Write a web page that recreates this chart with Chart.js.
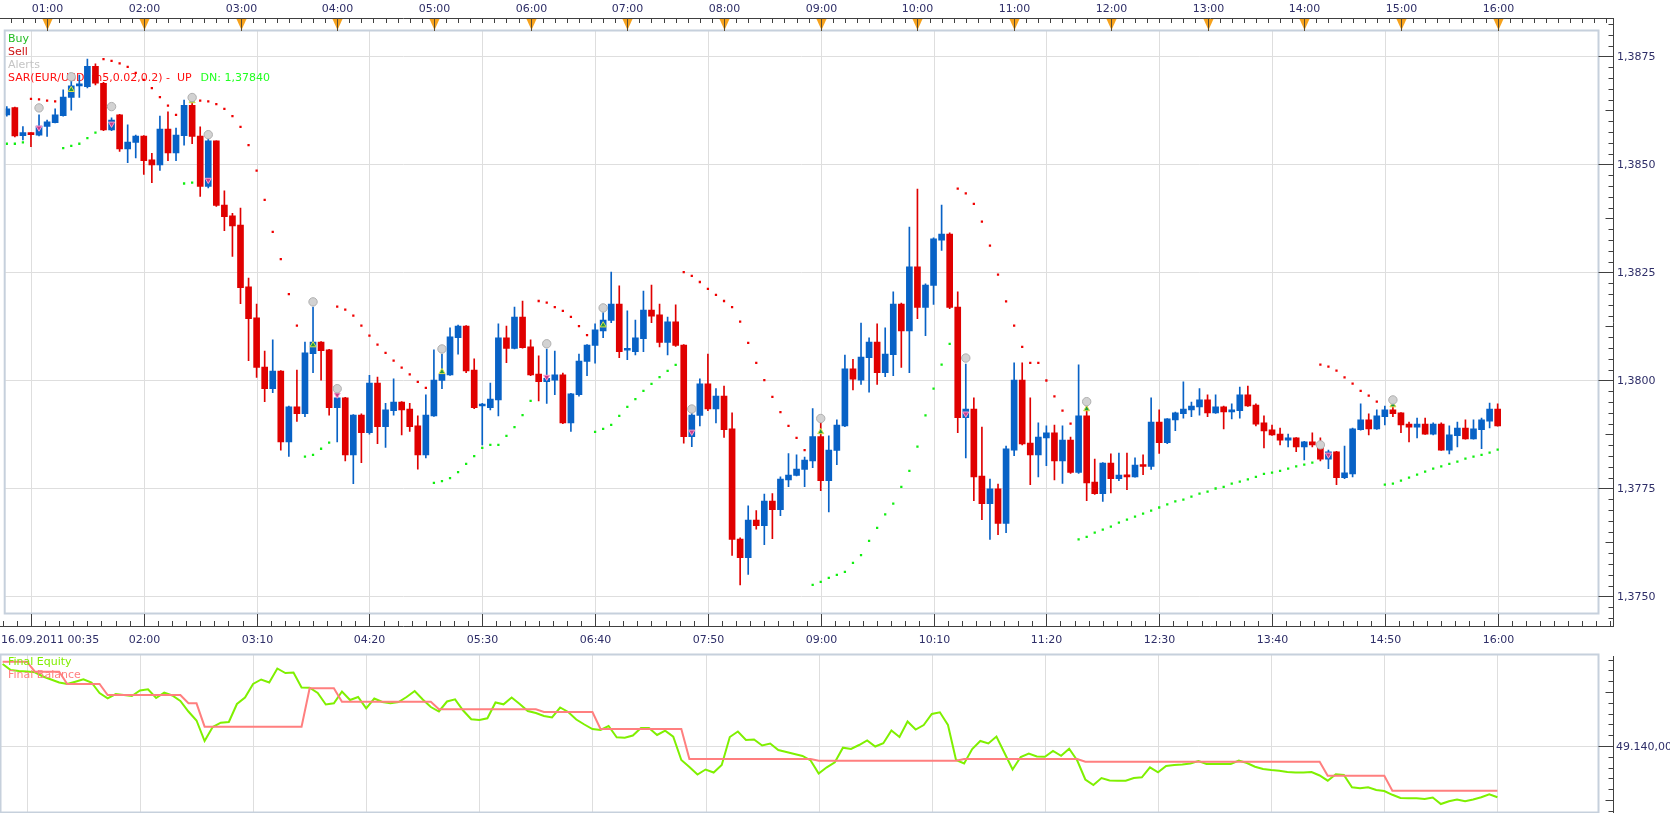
<!DOCTYPE html>
<html><head><meta charset="utf-8">
<script src="https://cdn.jsdelivr.net/npm/chart.js@4.4.1/dist/chart.umd.min.js"></script>
<style>
html,body{margin:0;padding:0;background:#fff;overflow:hidden}
#wrap{position:relative;width:1670px;height:813px}
#c1{position:absolute;left:0;top:0}
#c2{position:absolute;left:0;top:650px}
</style></head><body>
<div id="wrap"><canvas id="c1" width="1670" height="654"></canvas><canvas id="c2" width="1670" height="163"></canvas></div>
<script>
// ---------- DATA (EUR/USD m5, 16.09.2011 00:35 .. 16:00) ----------
const sessionStart = "00:35";
const barMinutes = 5;
const openP = [
1.38615,1.38632,1.38567,1.38574,1.38568,1.38588,1.38597,1.38613,1.38655,1.38682,
1.38680,1.38727,1.38688,1.38580,1.38615,1.38536,1.38551,1.38566,1.38511,1.38499,
1.38582,1.38527,1.38567,1.38637,1.38566,1.38449,1.38555,1.38406,1.38381,1.38360,
1.38217,1.38145,1.38031,1.37981,1.38022,1.37858,1.37939,1.37923,1.38062,1.38089,
1.38071,1.37937,1.37960,1.37828,1.37920,1.37879,1.37994,1.37893,1.37930,1.37950,
1.37934,1.37895,1.37828,1.37918,1.38000,1.38013,1.38099,1.38126,1.38024,1.37941,
1.37937,1.37955,1.38099,1.38074,1.38147,1.38078,1.38015,1.37997,1.38001,1.38013,
1.37902,1.37967,1.38044,1.38081,1.38115,1.38139,1.38177,1.38070,1.38067,1.38097,
1.38163,1.38152,1.38088,1.38136,1.38082,1.37870,1.37919,1.37992,1.37934,1.37964,
1.37888,1.37633,1.37590,1.37677,1.37664,1.37721,1.37701,1.37770,1.37780,1.37794,
1.37814,1.37870,1.37768,1.37838,1.37895,1.38027,1.38001,1.38053,1.38089,1.38018,
1.38060,1.38177,1.38115,1.38263,1.38169,1.38220,1.38325,1.38339,1.38170,1.37914,
1.37934,1.37779,1.37715,1.37749,1.37669,1.37839,1.38001,1.37855,1.37828,1.37867,
1.37879,1.37814,1.37862,1.37787,1.37918,1.37765,1.37738,1.37809,1.37773,1.37781,
1.37777,1.37804,1.37801,1.37904,1.37856,1.37909,1.37923,1.37932,1.37939,1.37955,
1.37925,1.37939,1.37927,1.37930,1.37967,1.37943,1.37902,1.37886,1.37876,1.37862,
1.37867,1.37846,1.37858,1.37853,1.37818,1.37835,1.37775,1.37784,1.37886,1.37909,
1.37888,1.37916,1.37932,1.37925,1.37899,1.37892,1.37899,1.37876,1.37899,1.37839,
1.37872,1.37890,1.37865,1.37886,1.37906,1.37934];
const highP = [
1.38634,1.38633,1.38588,1.38574,1.38615,1.38603,1.38629,1.38673,1.38696,1.38707,
1.38744,1.38733,1.38690,1.38608,1.38616,1.38592,1.38568,1.38567,1.38526,1.38612,
1.38622,1.38584,1.38649,1.38654,1.38587,1.38566,1.38555,1.38439,1.38387,1.38399,
1.38237,1.38177,1.38068,1.38094,1.38023,1.37941,1.38024,1.38089,1.38170,1.38090,
1.38072,1.37968,1.37961,1.37921,1.37923,1.38012,1.38008,1.37947,1.38004,1.37951,
1.37947,1.37918,1.37967,1.38071,1.38061,1.38122,1.38128,1.38127,1.38050,1.37947,
1.37994,1.38131,1.38126,1.38170,1.38184,1.38094,1.38057,1.38073,1.38068,1.38017,
1.37970,1.38061,1.38083,1.38131,1.38157,1.38251,1.38219,1.38161,1.38140,1.38207,
1.38221,1.38177,1.38147,1.38175,1.38083,1.37925,1.38004,1.38061,1.37981,1.37987,
1.37925,1.37636,1.37710,1.37699,1.37737,1.37738,1.37777,1.37831,1.37828,1.37823,
1.37935,1.37902,1.37872,1.37909,1.38059,1.38049,1.38133,1.38099,1.38131,1.38122,
1.38205,1.38179,1.38355,1.38443,1.38224,1.38330,1.38406,1.38342,1.38205,1.38038,
1.37960,1.37892,1.37772,1.37760,1.37848,1.38041,1.38041,1.37960,1.37902,1.37895,
1.37897,1.37895,1.37869,1.38036,1.37941,1.37818,1.37810,1.37830,1.37832,1.37832,
1.37821,1.37828,1.37960,1.37932,1.37912,1.37927,1.37997,1.37950,1.37981,1.37967,
1.37967,1.37941,1.37946,1.37985,1.37987,1.37946,1.37918,1.37897,1.37890,1.37876,
1.37868,1.37859,1.37879,1.37867,1.37839,1.37836,1.37848,1.37890,1.37946,1.37923,
1.37932,1.37941,1.37941,1.37926,1.37904,1.37913,1.37913,1.37902,1.37902,1.37895,
1.37904,1.37909,1.37909,1.37913,1.37948,1.37946];
const lowP = [
1.38612,1.38564,1.38557,1.38541,1.38566,1.38565,1.38596,1.38612,1.38626,1.38655,
1.38677,1.38684,1.38578,1.38578,1.38530,1.38504,1.38515,1.38477,1.38458,1.38486,
1.38509,1.38509,1.38545,1.38548,1.38426,1.38446,1.38403,1.38347,1.38287,1.38178,
1.38046,1.38007,1.37951,1.37972,1.37839,1.37824,1.37905,1.37916,1.38018,1.38001,
1.37920,1.37858,1.37814,1.37761,1.37810,1.37876,1.37854,1.37845,1.37920,1.37874,
1.37882,1.37795,1.37821,1.37917,1.37981,1.38012,1.38061,1.38018,1.37935,1.37851,
1.37932,1.37918,1.38041,1.38073,1.38075,1.38011,1.37953,1.37947,1.37967,1.37900,
1.37882,1.37964,1.38011,1.38040,1.38099,1.38134,1.38053,1.38048,1.38059,1.38067,
1.38134,1.38078,1.38059,1.38079,1.37855,1.37847,1.37895,1.37930,1.37902,1.37868,
1.37595,1.37527,1.37551,1.37656,1.37620,1.37634,1.37687,1.37754,1.37779,1.37754,
1.37798,1.37745,1.37696,1.37805,1.37893,1.37978,1.37991,1.37973,1.37991,1.38009,
1.38011,1.38030,1.38018,1.38143,1.38104,1.38176,1.38301,1.38166,1.37879,1.37821,
1.37722,1.37678,1.37632,1.37643,1.37648,1.37826,1.37851,1.37759,1.37777,1.37803,
1.37770,1.37762,1.37785,1.37785,1.37722,1.37736,1.37720,1.37740,1.37768,1.37747,
1.37776,1.37782,1.37794,1.37831,1.37854,1.37884,1.37913,1.37916,1.37920,1.37916,
1.37924,1.37888,1.37911,1.37913,1.37940,1.37895,1.37844,1.37873,1.37851,1.37846,
1.37835,1.37816,1.37846,1.37814,1.37796,1.37759,1.37773,1.37777,1.37885,1.37874,
1.37887,1.37897,1.37916,1.37879,1.37858,1.37867,1.37875,1.37874,1.37838,1.37830,
1.37846,1.37864,1.37864,1.37842,1.37890,1.37894];
const closeP = [
1.38629,1.38566,1.38574,1.38569,1.38589,1.38599,1.38615,1.38656,1.38682,1.38686,
1.38727,1.38688,1.38580,1.38603,1.38536,1.38552,1.38566,1.38509,1.38499,1.38582,
1.38527,1.38568,1.38637,1.38565,1.38449,1.38555,1.38405,1.38379,1.38358,1.38215,
1.38143,1.38030,1.37981,1.38022,1.37858,1.37939,1.37923,1.38064,1.38089,1.38069,
1.37937,1.37960,1.37828,1.37920,1.37879,1.37994,1.37893,1.37932,1.37950,1.37932,
1.37893,1.37828,1.37920,1.38001,1.38015,1.38101,1.38126,1.38022,1.37937,1.37942,
1.37957,1.38099,1.38074,1.38147,1.38076,1.38013,1.37997,1.38005,1.38013,1.37902,
1.37969,1.38045,1.38082,1.38117,1.38140,1.38177,1.38067,1.38071,1.38099,1.38163,
1.38149,1.38088,1.38136,1.38081,1.37870,1.37920,1.37992,1.37934,1.37964,1.37886,
1.37632,1.37590,1.37677,1.37664,1.37721,1.37701,1.37772,1.37781,1.37795,1.37816,
1.37870,1.37768,1.37839,1.37897,1.38027,1.38003,1.38054,1.38089,1.38018,1.38061,
1.38177,1.38115,1.38263,1.38169,1.38221,1.38328,1.38339,1.38169,1.37914,1.37934,
1.37777,1.37715,1.37749,1.37669,1.37842,1.38001,1.37853,1.37828,1.37869,1.37879,
1.37814,1.37862,1.37787,1.37918,1.37763,1.37738,1.37809,1.37773,1.37781,1.37777,
1.37804,1.37801,1.37904,1.37856,1.37911,1.37925,1.37934,1.37941,1.37955,1.37925,
1.37939,1.37927,1.37932,1.37967,1.37941,1.37899,1.37883,1.37874,1.37862,1.37867,
1.37846,1.37858,1.37851,1.37818,1.37835,1.37775,1.37786,1.37888,1.37909,1.37888,
1.37918,1.37932,1.37923,1.37897,1.37892,1.37899,1.37876,1.37899,1.37839,1.37874,
1.37890,1.37865,1.37888,1.37909,1.37934,1.37895];
const sarP = [
1.38548,1.38548,1.38551,1.38652,1.38651,1.38648,1.38646,1.38538,1.38543,1.38548,
1.38561,1.38574,1.38744,1.38740,1.38734,1.38726,1.38712,1.38696,1.38677,1.38656,
1.38636,1.38615,1.38456,1.38458,1.38648,1.38646,1.38640,1.38629,1.38612,1.38587,
1.38545,1.38486,1.38418,1.38344,1.38281,1.38200,1.38127,1.37824,1.37828,1.37842,
1.37856,1.38171,1.38164,1.38150,1.38127,1.38104,1.38083,1.38064,1.38046,1.38030,
1.38014,1.37997,1.37983,1.37763,1.37767,1.37774,1.37788,1.37807,1.37825,1.37844,
1.37851,1.37851,1.37872,1.37892,1.37920,1.37953,1.38184,1.38180,1.38170,1.38161,
1.38147,1.38126,1.38105,1.37881,1.37888,1.37897,1.37918,1.37939,1.37957,1.37976,
1.37992,1.38008,1.38022,1.38036,1.38251,1.38242,1.38228,1.38212,1.38198,1.38184,
1.38170,1.38136,1.38087,1.38041,1.38001,1.37962,1.37927,1.37895,1.37867,1.37839,
1.37527,1.37534,1.37543,1.37550,1.37557,1.37578,1.37596,1.37629,1.37659,1.37690,
1.37715,1.37754,1.37791,1.37847,1.37919,1.37981,1.38037,1.38085,1.38444,1.38433,
1.38409,1.38368,1.38312,1.38245,1.38183,1.38127,1.38078,1.38041,1.38041,1.38000,
1.37963,1.37930,1.37900,1.37632,1.37638,1.37648,1.37655,1.37662,1.37671,1.37678,
1.37685,1.37692,1.37699,1.37706,1.37713,1.37720,1.37724,1.37731,1.37738,1.37743,
1.37750,1.37754,1.37761,1.37766,1.37771,1.37777,1.37784,1.37787,1.37791,1.37796,
1.37801,1.37805,1.37810,1.38037,1.38032,1.38023,1.38007,1.37993,1.37976,1.37965,
1.37951,1.37759,1.37761,1.37768,1.37775,1.37782,1.37789,1.37796,1.37801,1.37807,
1.37812,1.37819,1.37824,1.37828,1.37833,1.37840];
const equity = [
49222,49216,49215,49214.5,49213.7,49209.5,49206.5,49203.5,49202,49204.3,
49206.7,49203.5,49193,49187.7,49192,49191,49190,49195.5,49196.7,49188,
49193.3,49190.5,49185,49174.5,49165.5,49145,49159,49163.3,49164,49182,
49188.5,49202,49206.5,49203.5,49217.5,49213,49213.5,49198.5,49198.3,49193,
49181.5,49182.7,49194.5,49186,49189,49177.7,49187.5,49184,49182.7,49184,
49189,49195,49186.5,49179,49174.5,49184.5,49186.7,49175.5,49166.7,49166,
49167.7,49183.5,49181.7,49188.5,49182,49175,49173,49170,49168.5,49178.5,
49174,49166.5,49161.5,49157,49156,49160,49148.7,49148.3,49150.5,49158,
49158,49151,49155.3,49149.3,49126,49119,49111.5,49116.5,49113.5,49121,
49149,49154.5,49146,49146.5,49140.5,49142.5,49136,49134,49132,49130,
49125.5,49112.5,49118.7,49123.7,49138.3,49137,49141,49145.5,49139.5,49142.7,
49155.5,49149,49164.5,49156.5,49161,49172,49173.7,49161,49126,49122.5,
49137,49145,49142.5,49149.5,49133,49116.5,49129,49132.5,49129.5,49129.3,
49135,49130.2,49137.2,49125.5,49106.5,49101,49108,49105.5,49105.3,49105.3,
49108,49108.7,49118.7,49113.7,49120,49121,49121.6,49122.5,49125,49122,
49122,49122,49122,49125.5,49123,49119.3,49117,49116,49115.3,49114,
49113.5,49113.5,49114,49110.5,49105.3,49111.8,49111,49098.7,49097.7,49098.7,
49096,49095,49091.2,49088,49087.7,49087.7,49087,49088.5,49082,49084.8,
49086.5,49084.7,49086.5,49088.8,49091.8,49088.7];
const balance = [
49224.3,49224.3,49224.3,49224.3,49214.3,49214.3,49214.3,49214.3,49202,49202,
49202,49202,49202,49191,49191,49191,49191,49191,49191,49191,
49191,49191,49191,49182.7,49182.7,49159.3,49159.3,49159.3,49159.3,49159.3,
49159.3,49159.3,49159.3,49159.3,49159.3,49159.3,49159.3,49159.3,49197.7,49197.7,
49197.7,49197.7,49184.3,49184.3,49184.3,49184.3,49184.3,49184.3,49184.3,49184.3,
49184.3,49184.3,49184.3,49184.3,49176.7,49176.7,49176.7,49176.7,49176.7,49176.7,
49176.7,49176.7,49176.7,49176.7,49176.7,49176.7,49176.7,49174,49174,49174,
49174,49174,49174,49174,49157,49157,49157,49157,49157,49157,
49157,49157,49157,49157,49157,49127,49127,49127,49127,49127,
49127,49127,49127,49127,49127,49127,49127,49127,49127,49127,
49127,49125.3,49125.3,49125.3,49125.3,49125.3,49125.3,49125.3,49125.3,49125.3,
49125.3,49125.3,49125.3,49125.3,49125.3,49125.3,49125.3,49125.3,49125.3,49127,
49127,49127,49127,49127,49127,49127,49127,49127,49127,49127,
49127,49127,49127,49127,49124.3,49124.3,49124.3,49124.3,49124.3,49124.3,
49124.3,49124.3,49124.3,49124.3,49124.3,49124.3,49124.3,49124.3,49124.3,49124.3,
49124.3,49124.3,49124.3,49124.3,49124.3,49124.3,49124.3,49124.3,49124.3,49124.3,
49124.3,49124.3,49124.3,49124.3,49110.3,49110.3,49110.3,49110.3,49110.3,49110.3,
49110.3,49110.3,49095.3,49095.3,49095.3,49095.3,49095.3,49095.3,49095.3,49095.3,
49095.3,49095.3,49095.3,49095.3,49095.3,49095.3];
// trade / alert markers
const alertBars   = [4,8,13,23,25,38,41,54,67,74,85,101,119,134,163,172];
const alertPrices = [1.38631,1.38703,1.38634,1.38655,1.38569,1.38182,1.37981,1.38073,1.38085,1.38168,1.37934,1.37912,1.38052,1.37951,1.37851,1.37955];
const buyBars   = [8,23,38,54,74,101,134,172];
const buyPrices = [1.38673,1.38647,1.38082,1.38020,1.38128,1.37881,1.37934,1.37943];
const sellBars   = [4,13,25,41,67,85,119,164];
const sellPrices = [1.38585,1.38594,1.38464,1.37967,1.38008,1.37881,1.37923,1.37828];
// axes
const topTickLabels = ["01:00","02:00","03:00","04:00","05:00","06:00","07:00","08:00","09:00","10:00","11:00","12:00","13:00","14:00","15:00","16:00"];
const bottomTickTimes  = ["00:50","02:00","03:10","04:20","05:30","06:40","07:50","09:00","10:10","11:20","12:30","13:40","14:50","16:00"];
const bottomTickLabels = ["16.09.2011 00:35","02:00","03:10","04:20","05:30","06:40","07:50","09:00","10:10","11:20","12:30","13:40","14:50","16:00"];
const priceTicks = [1.3750,1.3775,1.3800,1.3825,1.3850,1.3875];
const priceTickLabels = ["1,3750","1,3775","1,3800","1,3825","1,3850","1,3875"];
const equityTick = 49140;
const equityTickLabel = "49.140,00";
const legendTop = [["Buy","#22bb22"],["Sell","#cc1111"],["Alerts","#c4c4c4"]];
const sarLabel = "SAR(EUR/USD, m5,0.02,0.2) -  UP";
const sarValueLabel = "DN: 1,37840";
const lowerLegend = [["Final Equity","#80ee00"],["Final Balance","#ff8080"]];

// ---------- helpers ----------
const toMin = t => { const [h,m] = t.split(':').map(Number); return h*60+m; };
const barOf = t => (toMin(t) - toMin(sessionStart)) / barMinutes;
const idx = openP.map((_, i) => i);
const gridBars = bottomTickTimes.map(barOf);
const UP = '#0862c6', DN = '#e00000';
const candleCol = idx.map(i => closeP[i] >= openP[i] ? UP : DN);
const sarCol = idx.map(i => sarP[i] < closeP[i] ? '#10ee10' : '#f00000');
const GRID = '#dedede', AXIS = '#404040', TXT = '#2e2e68', BORDER = '#c6d0dc';
const FONT = '11px "DejaVu Sans", Verdana, sans-serif';
const X_MIN = -0.198, X_MAX = 197.45;

function seg(ctx, x1, y1, x2, y2){ ctx.moveTo(x1, y1); ctx.lineTo(x2, y2); }
const RA = 1613.5; // right axis line x

const decor1 = {
  id: 'decor1',
  beforeDraw(chart){
    const {ctx, chartArea: a, scales: {x, y}} = chart;
    ctx.save();
    ctx.fillStyle = '#fff'; ctx.fillRect(0, 0, chart.width, chart.height);
    ctx.strokeStyle = GRID; ctx.lineWidth = 1; ctx.beginPath();
    gridBars.forEach(b => { const px = Math.round(x.getPixelForValue(b)) + 0.5; seg(ctx, px, a.top, px, a.bottom); });
    priceTicks.forEach(p => { const py = Math.round(y.getPixelForValue(p)) + 0.5; seg(ctx, a.left, py, a.right, py); });
    ctx.stroke();
    // legend texts
    ctx.font = FONT; ctx.textBaseline = 'middle'; ctx.textAlign = 'left';
    legendTop.forEach(([t, c], k) => { ctx.fillStyle = c; ctx.fillText(t, 8, 39 + k * 13); });
    ctx.fillStyle = '#ff1010'; ctx.fillText(sarLabel, 8, 78);
    const w = ctx.measureText(sarLabel).width;
    ctx.fillStyle = '#22ff22'; ctx.fillText(sarValueLabel, 8 + w + 9, 78);
    ctx.restore();
  },
  afterDraw(chart){
    const {ctx, chartArea: a, scales: {x, y}} = chart;
    ctx.save();
    // plot border
    ctx.strokeStyle = BORDER; ctx.lineWidth = 2;
    ctx.strokeRect(a.left - 0.5, a.top - 0.5, a.right - a.left + 1, a.bottom - a.top + 1);
    // top axis
    ctx.strokeStyle = AXIS; ctx.lineWidth = 1; ctx.beginPath();
    seg(ctx, 0, 18.5, RA + 0.5, 18.5);
    const hourBars = topTickLabels.map(barOf);
    for (let k = -8; k < 200; k++) {
      const b = hourBars[0] + 1.5 * k;
      const px = Math.round(x.getPixelForValue(b)) + 0.5;
      if (px < 0 || px > RA) continue;
      seg(ctx, px, 18.5, px, 23);
    }
    ctx.stroke();
    hourBars.forEach((b, k) => {
      const px = Math.round(x.getPixelForValue(b)) + 0.5;
      ctx.fillStyle = '#f7a21c'; ctx.beginPath();
      ctx.moveTo(px - 5, 19); ctx.lineTo(px + 5, 19); ctx.lineTo(px, 30); ctx.closePath(); ctx.fill();
      ctx.strokeStyle = '#5a4a30'; ctx.beginPath(); seg(ctx, px, 18, px, 31); ctx.stroke();
      ctx.fillStyle = TXT; ctx.font = FONT; ctx.textAlign = 'center'; ctx.textBaseline = 'middle';
      ctx.fillText(topTickLabels[k], px, 9);
    });
    // right axis
    ctx.strokeStyle = AXIS; ctx.beginPath();
    seg(ctx, RA, 18, RA, 627);
    for (let k = 0; k <= 60; k++) {
      const v = 137450 + 25 * k;
      const py = Math.round(y.getPixelForValue(v / 100000)) + 0.5;
      if (py < 20 || py > 624) continue;
      const len = v % 250 === 0 ? 15 : (v % 125 === 0 ? 8 : 5);
      seg(ctx, RA - len, py, RA, py);
    }
    ctx.stroke();
    ctx.fillStyle = TXT; ctx.textAlign = 'left'; ctx.textBaseline = 'middle';
    priceTicks.forEach((p, k) => { const py = Math.round(y.getPixelForValue(p)) + 0.5; ctx.fillText(priceTickLabels[k], 1617, py + 1); });
    // bottom axis
    ctx.strokeStyle = AXIS; ctx.beginPath();
    seg(ctx, 0, 626.5, RA + 0.5, 626.5);
    gridBars.forEach(b => { const px = Math.round(x.getPixelForValue(b)) + 0.5; seg(ctx, px, 614, px, 626.5); });
    for (let k = -4; k < 200; k++) {
      const b = gridBars[0] + 1.75 * k;
      const px = Math.round(x.getPixelForValue(b)) + 0.5;
      if (px < 0 || px > RA - 2) continue;
      seg(ctx, px, 621, px, 626.5);
    }
    ctx.stroke();
    ctx.fillStyle = TXT; ctx.textBaseline = 'middle';
    bottomTickLabels.forEach((t, k) => {
      if (k === 0) { ctx.textAlign = 'left'; ctx.fillText(t, 1, 640); return; }
      ctx.textAlign = 'center';
      ctx.fillText(t, Math.round(x.getPixelForValue(gridBars[k])) + 0.5, 640);
    });
    ctx.restore();
  }
};

const decor2 = {
  id: 'decor2',
  beforeDraw(chart){
    const {ctx, chartArea: a, scales: {x, y}} = chart;
    ctx.save();
    ctx.fillStyle = '#fff'; ctx.fillRect(0, 0, chart.width, chart.height);
    ctx.strokeStyle = GRID; ctx.lineWidth = 1; ctx.beginPath();
    gridBars.forEach(b => { const px = Math.round(x.getPixelForValue(b)) + 0.5; seg(ctx, px, a.top, px, a.bottom); });
    const py = Math.round(y.getPixelForValue(equityTick)) + 0.5; seg(ctx, a.left, py, a.right, py);
    ctx.stroke();
    ctx.restore();
  },
  afterDraw(chart){
    const {ctx, chartArea: a, scales: {x, y}} = chart;
    ctx.save();
    ctx.font = FONT; ctx.textBaseline = 'middle'; ctx.textAlign = 'left';
    lowerLegend.forEach(([t, c], k) => { ctx.fillStyle = c; ctx.fillText(t, 8, 12 + k * 13.5); });
    ctx.strokeStyle = BORDER; ctx.lineWidth = 2;
    ctx.strokeRect(a.left - 0.5, a.top - 0.5, a.right - a.left + 1, a.bottom - a.top + 1);
    ctx.strokeStyle = AXIS; ctx.lineWidth = 1; ctx.beginPath();
    seg(ctx, RA, 6, RA, 163);
    for (let k = -12; k <= 12; k++) {
      const py = Math.round(y.getPixelForValue(equityTick + 10.8 * k)) + 0.5;
      if (py < 7 || py > 162) continue;
      const len = k === 0 ? 15 : (k % 5 === 0 ? 8 : 5);
      seg(ctx, RA - len, py, RA, py);
    }
    ctx.stroke();
    ctx.fillStyle = TXT; ctx.textBaseline = 'middle';
    ctx.fillText(equityTickLabel, 1616, Math.round(y.getPixelForValue(equityTick)) + 1.5);
    ctx.restore();
  }
};

Chart.defaults.font.family = '"DejaVu Sans", Verdana, sans-serif';

new Chart(document.getElementById('c1'), {
  type: 'bar',
  data: {
    datasets: [
      { type: 'scatter', label: 'alerts', data: alertBars.map((b, k) => ({x: b, y: alertPrices[k]})),
        pointStyle: 'circle', pointRadius: 4.2, pointBackgroundColor: '#d2d2d2', pointBorderColor: '#b0b0b0', pointBorderWidth: 1, order: 0 },
      { type: 'scatter', label: 'buy', data: buyBars.map((b, k) => ({x: b, y: buyPrices[k]})),
        pointStyle: 'triangle', pointRadius: 3.5, pointBackgroundColor: '#1e9a40', pointBorderColor: '#dfe24a', pointBorderWidth: 1, order: 0 },
      { type: 'scatter', label: 'sell', data: sellBars.map((b, k) => ({x: b, y: sellPrices[k]})),
        pointStyle: 'triangle', rotation: 180, pointRotation: 180, pointRadius: 3.5, pointBackgroundColor: '#c83c8c', pointBorderColor: '#ff9ccc', pointBorderWidth: 1, order: 0 },
      { type: 'scatter', label: 'SAR', data: idx.map(i => ({x: i, y: sarP[i]})),
        pointStyle: 'rect', pointRadius: 1.6, pointBackgroundColor: sarCol, pointBorderWidth: 0, order: 1 },
      { type: 'bar', label: 'body', data: idx.map(i => ({x: i, y: [openP[i], closeP[i]]})),
        backgroundColor: candleCol, barThickness: 6, minBarLength: 2, grouped: false, borderWidth: 0, order: 2 },
      { type: 'bar', label: 'wick', data: idx.map(i => ({x: i, y: [lowP[i], highP[i]]})),
        backgroundColor: candleCol, barThickness: 1, grouped: false, borderWidth: 0, order: 3 }
    ]
  },
  options: {
    responsive: false, devicePixelRatio: 1, animation: false, events: [],
    layout: { padding: { left: 1, top: 31, right: 72, bottom: 41 } },
    scales: {
      x: { type: 'linear', min: X_MIN, max: X_MAX, display: false, offset: false },
      y: { type: 'linear', min: 1.374618, max: 1.388090, display: false }
    },
    plugins: { legend: { display: false }, tooltip: { enabled: false } }
  },
  plugins: [decor1]
});

new Chart(document.getElementById('c2'), {
  type: 'line',
  data: {
    datasets: [
      { label: 'Final Balance', data: idx.map(i => ({x: i, y: balance[i]})), borderColor: '#ff7f7f', borderWidth: 2, pointRadius: 0, tension: 0, order: 0 },
      { label: 'Final Equity', data: idx.map(i => ({x: i, y: equity[i]})), borderColor: '#7ff000', borderWidth: 2, pointRadius: 0, tension: 0, order: 1 }
    ]
  },
  options: {
    responsive: false, devicePixelRatio: 1, animation: false, events: [],
    layout: { padding: { left: 1, top: 5, right: 72, bottom: 1 } },
    scales: {
      x: { type: 'linear', min: X_MIN, max: X_MAX, display: false },
      y: { type: 'linear', min: 49074, max: 49231, display: false }
    },
    plugins: { legend: { display: false }, tooltip: { enabled: false } }
  },
  plugins: [decor2]
});
</script>
</body></html>
